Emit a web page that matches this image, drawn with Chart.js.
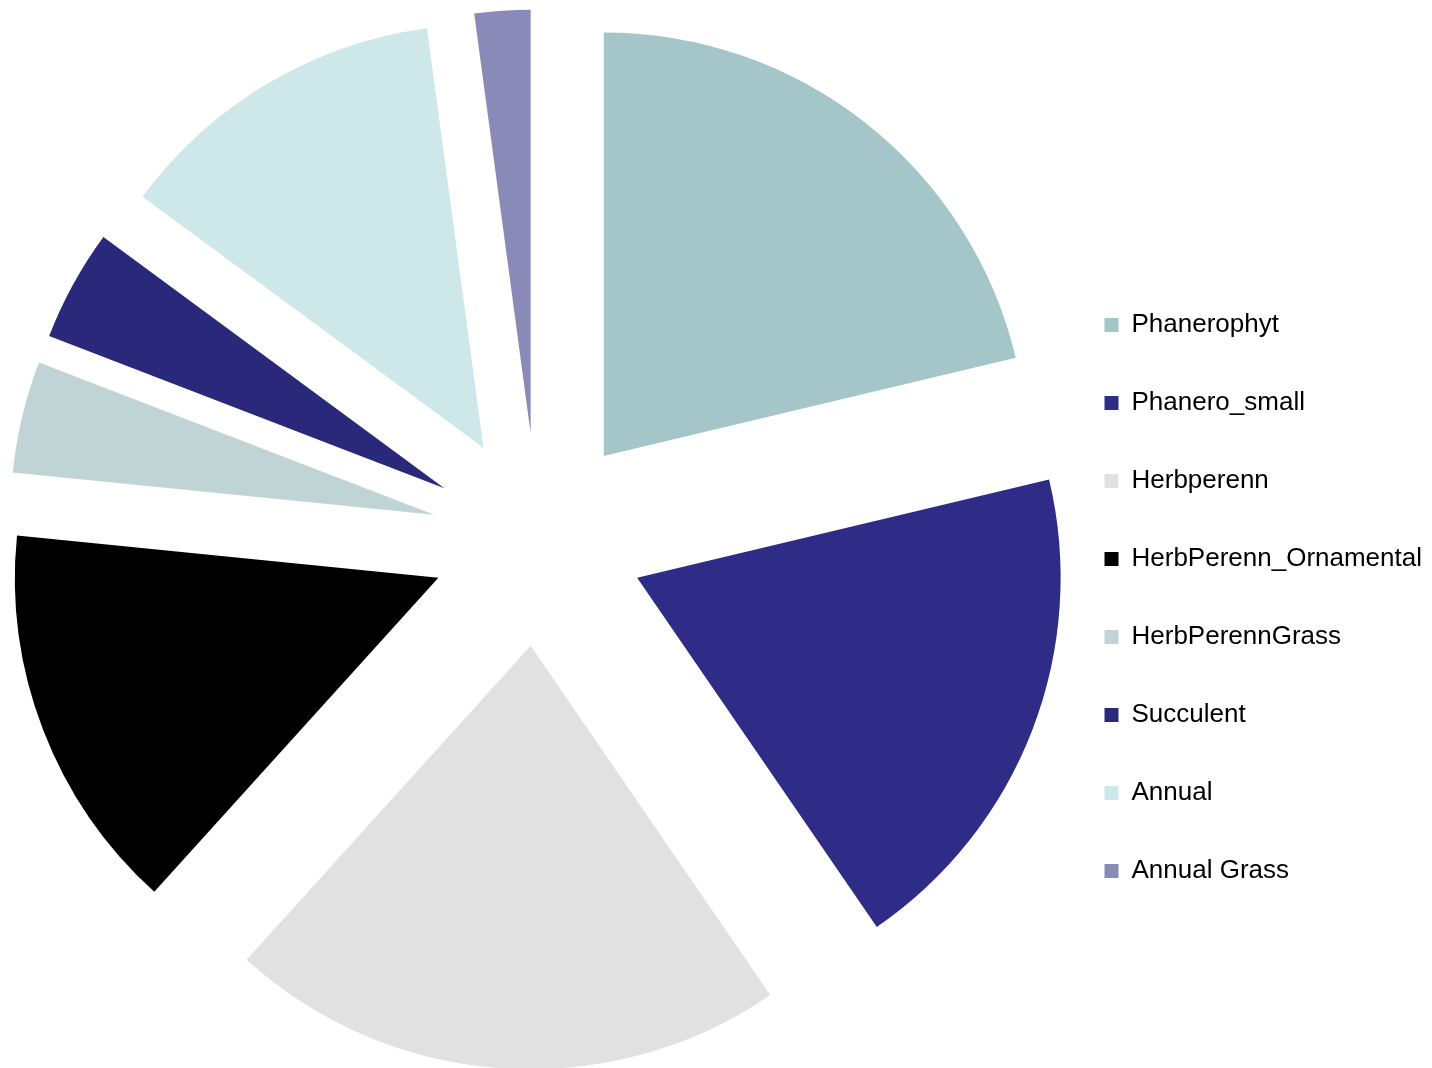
<!DOCTYPE html>
<html>
<head>
<meta charset="utf-8">
<title>Plant groups</title>
<script src="https://cdn.jsdelivr.net/npm/chart.js@4.4.1/dist/chart.umd.min.js"></script>
<style>
  html, body { margin: 0; padding: 0; background: #ffffff; }
  #wrap { width: 1432px; height: 1068px; position: relative; }
</style>
</head>
<body>
<div id="wrap"><canvas id="chart"></canvas></div>
<script>
// Plant groups and the number of species in each
const categories = [
  'Phanerophyt',
  'Phanero_small',
  'Herbperenn',
  'HerbPerenn_Ornamental',
  'HerbPerennGrass',
  'Succulent',
  'Annual',
  'Annual Grass'
];
const counts = [10, 9, 10, 7, 2, 2, 6, 1];
const sliceColors = [
  '#a5c6c8',
  '#2e2c87',
  '#e1e1e1',
  '#000000',
  '#c0d4d6',
  '#29287a',
  '#cee8ea',
  '#8a8ab9'
];

// Pie geometry (pixels): radius and how far every slice is pulled out
const PIE_RADIUS = 423.5;
const EXPLODE = 106.5;

// Moves each arc's centre outward along its own bisector
const explodeSlices = {
  id: 'explodeSlices',
  afterDatasetUpdate(chart, args) {
    const area = chart.chartArea;
    const cx = (area.left + area.right) / 2;
    const cy = (area.top + area.bottom) / 2;
    for (const arc of args.meta.data) {
      const mid = (arc.startAngle + arc.endAngle) / 2;
      arc.x = cx + Math.cos(mid) * EXPLODE;
      arc.y = cy + Math.sin(mid) * EXPLODE;
    }
  }
};

const labelFont = { family: '"Liberation Sans", Arial, Helvetica, sans-serif', size: 26 };

new Chart(document.getElementById('chart'), {
  type: 'pie',
  data: {
    labels: categories,
    datasets: [{
      data: counts,
      backgroundColor: sliceColors,
      borderWidth: 0,
      hoverOffset: 0,
      radius: PIE_RADIUS
    }]
  },
  options: {
    responsive: true,
    maintainAspectRatio: false,
    animation: false,
    layout: { padding: { left: 23, top: 11, right: 0, bottom: 0 } },
    plugins: {
      tooltip: { enabled: false },
      legend: {
        position: 'right',
        align: 'start',
        title: {
          display: true,
          text: '',
          font: { size: 12, lineHeight: 1 },
          padding: { top: 237, bottom: 0 }
        },
        labels: {
          boxWidth: 14,
          boxHeight: 14,
          padding: 52,
          color: '#000000',
          font: labelFont
        }
      }
    }
  },
  plugins: [explodeSlices]
});
</script>
</body>
</html>
